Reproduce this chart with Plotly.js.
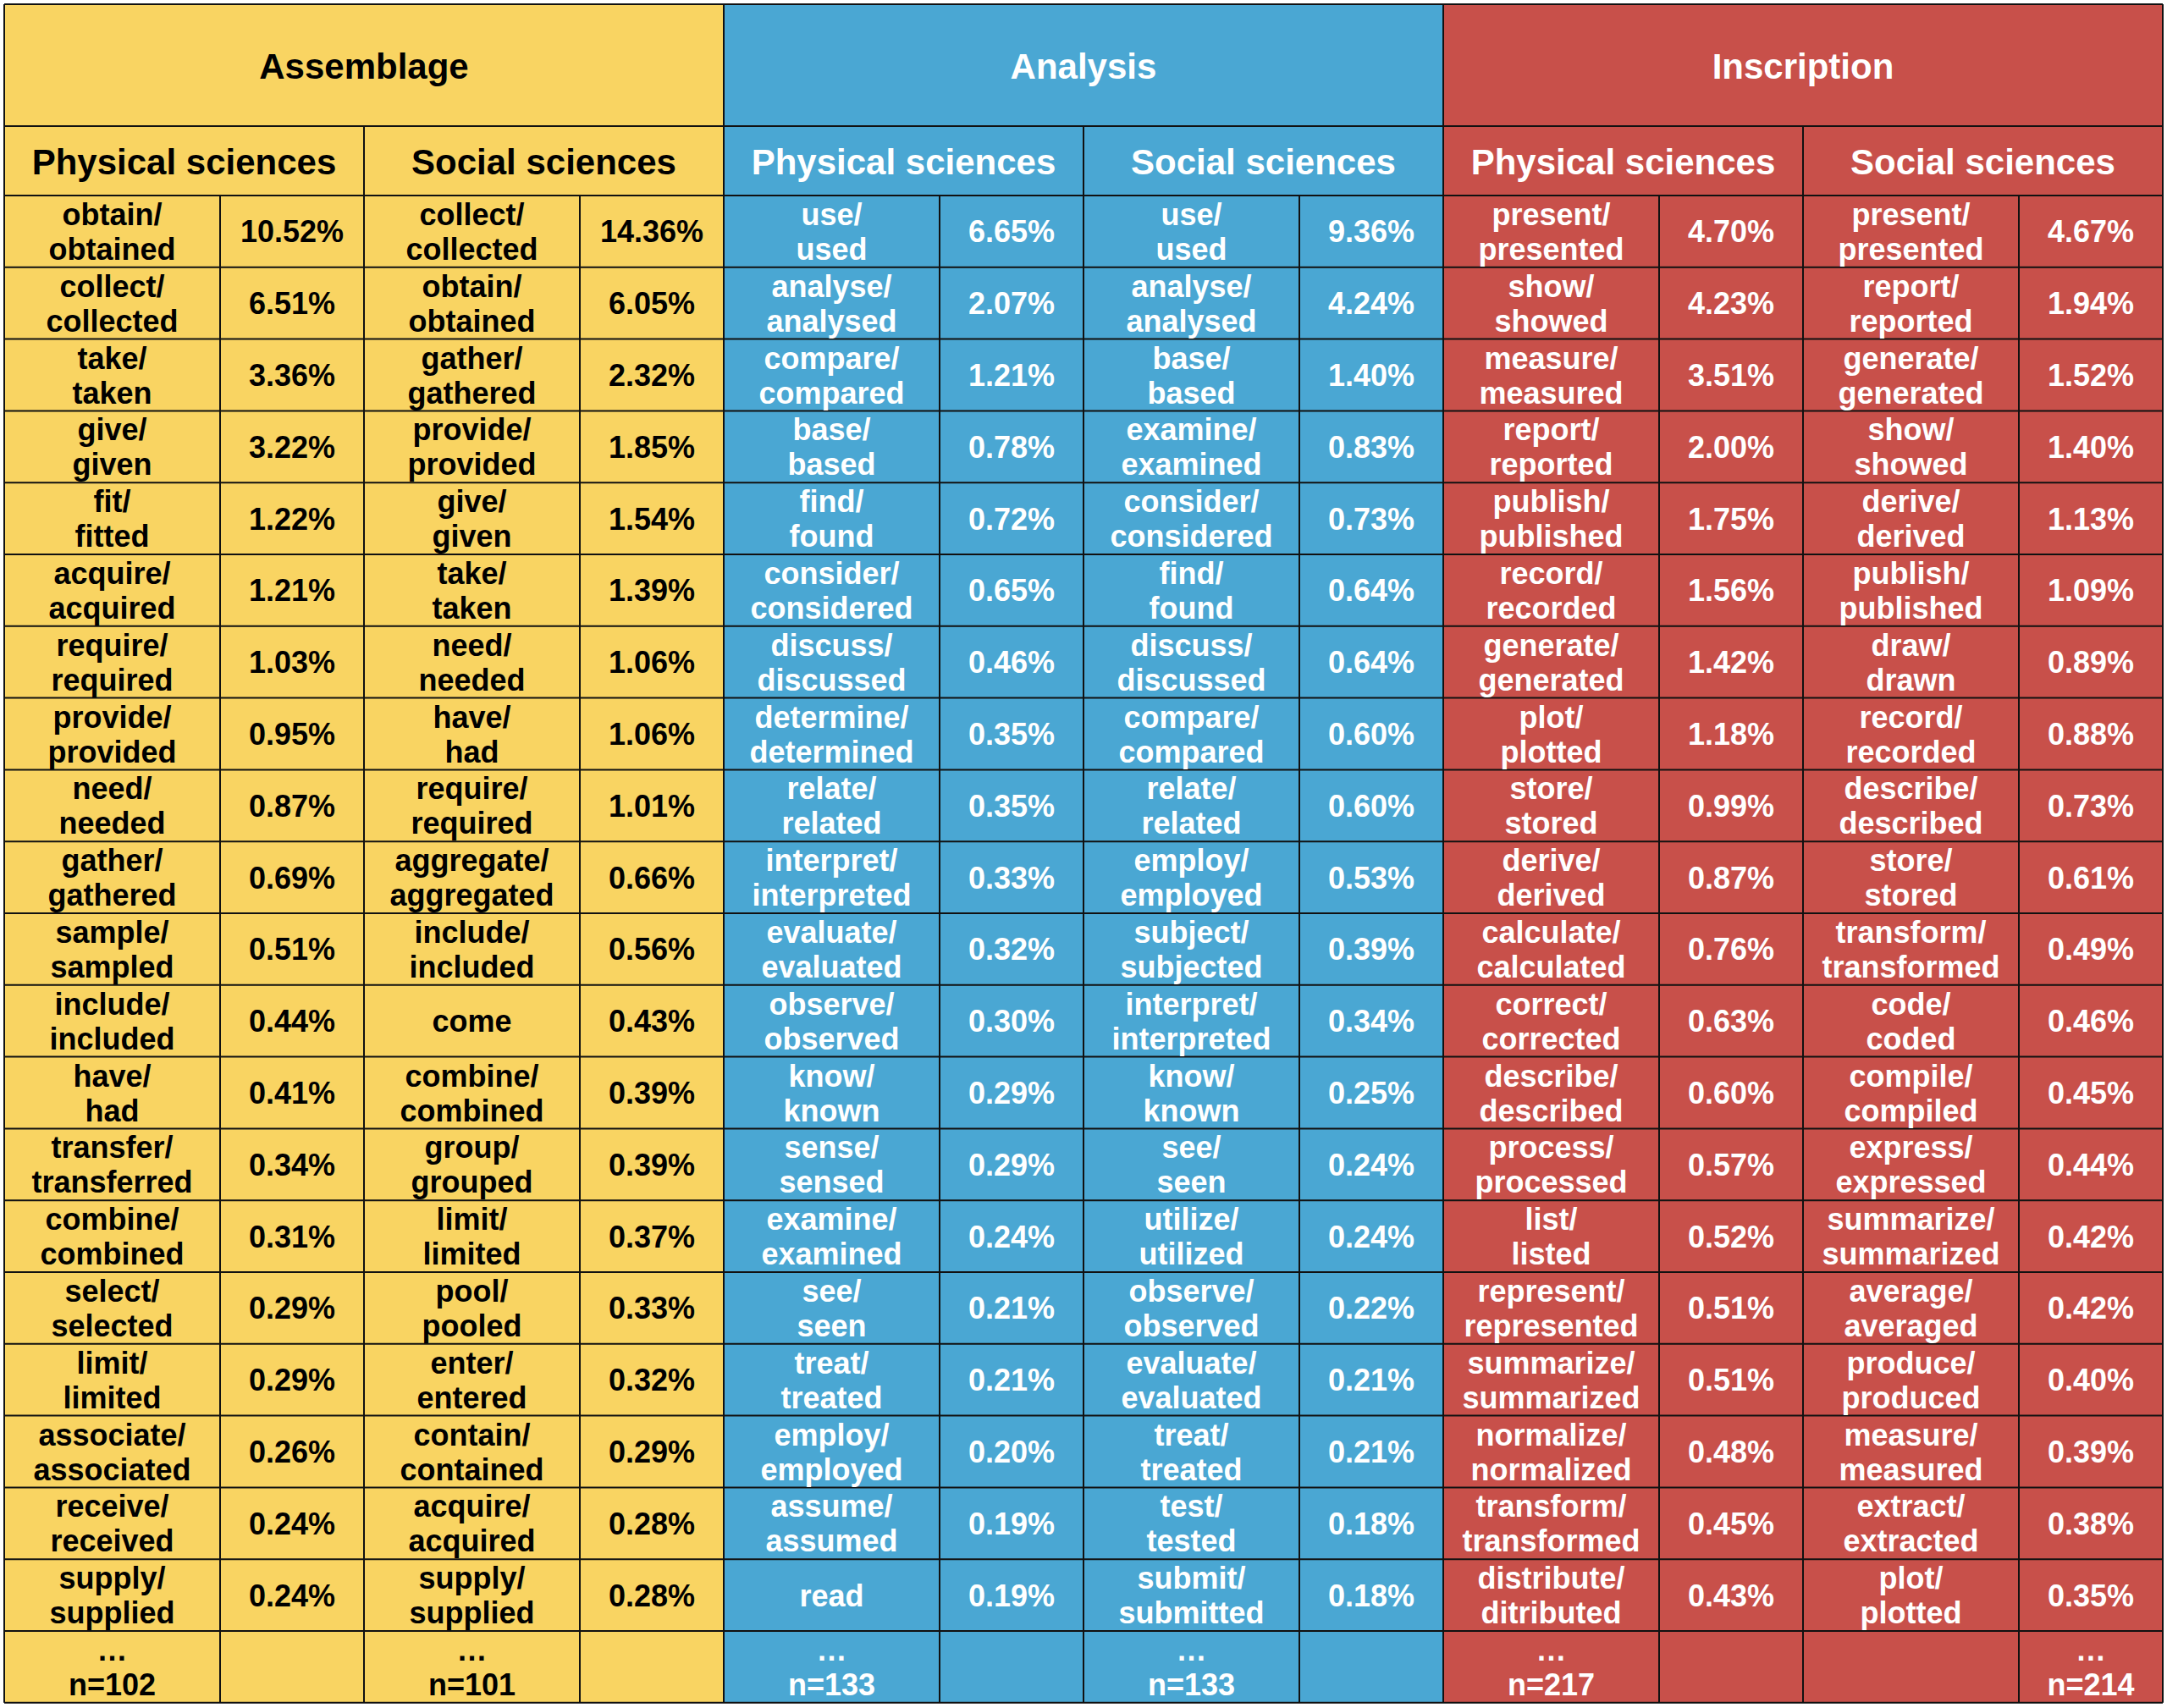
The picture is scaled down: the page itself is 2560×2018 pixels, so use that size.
<!DOCTYPE html>
<html>
<head>
<meta charset="utf-8">
<script src="https://cdn.plot.ly/plotly-3.0.1.min.js"></script>
<style>html,body{margin:0;padding:0;background:#ffffff;}</style>
</head>
<body>
<div id="chart" style="width:2560px;height:2018px;"></div>
<script>
// ---------------- DATA ----------------
const categories = ["Assemblage", "Analysis", "Inscription"];
const disciplines = ["Physical sciences", "Social sciences"];

const assemblagePhysicalVerbs = ["obtain/obtained","collect/collected","take/taken","give/given","fit/fitted","acquire/acquired","require/required","provide/provided","need/needed","gather/gathered","sample/sampled","include/included","have/had","transfer/transferred","combine/combined","select/selected","limit/limited","associate/associated","receive/received","supply/supplied"];
const assemblagePhysicalShares = [10.52,6.51,3.36,3.22,1.22,1.21,1.03,0.95,0.87,0.69,0.51,0.44,0.41,0.34,0.31,0.29,0.29,0.26,0.24,0.24];

const assemblageSocialVerbs = ["collect/collected","obtain/obtained","gather/gathered","provide/provided","give/given","take/taken","need/needed","have/had","require/required","aggregate/aggregated","include/included","come","combine/combined","group/grouped","limit/limited","pool/pooled","enter/entered","contain/contained","acquire/acquired","supply/supplied"];
const assemblageSocialShares = [14.36,6.05,2.32,1.85,1.54,1.39,1.06,1.06,1.01,0.66,0.56,0.43,0.39,0.39,0.37,0.33,0.32,0.29,0.28,0.28];

const analysisPhysicalVerbs = ["use/used","analyse/analysed","compare/compared","base/based","find/found","consider/considered","discuss/discussed","determine/determined","relate/related","interpret/interpreted","evaluate/evaluated","observe/observed","know/known","sense/sensed","examine/examined","see/seen","treat/treated","employ/employed","assume/assumed","read"];
const analysisPhysicalShares = [6.65,2.07,1.21,0.78,0.72,0.65,0.46,0.35,0.35,0.33,0.32,0.30,0.29,0.29,0.24,0.21,0.21,0.20,0.19,0.19];

const analysisSocialVerbs = ["use/used","analyse/analysed","base/based","examine/examined","consider/considered","find/found","discuss/discussed","compare/compared","relate/related","employ/employed","subject/subjected","interpret/interpreted","know/known","see/seen","utilize/utilized","observe/observed","evaluate/evaluated","treat/treated","test/tested","submit/submitted"];
const analysisSocialShares = [9.36,4.24,1.40,0.83,0.73,0.64,0.64,0.60,0.60,0.53,0.39,0.34,0.25,0.24,0.24,0.22,0.21,0.21,0.18,0.18];

const inscriptionPhysicalVerbs = ["present/presented","show/showed","measure/measured","report/reported","publish/published","record/recorded","generate/generated","plot/plotted","store/stored","derive/derived","calculate/calculated","correct/corrected","describe/described","process/processed","list/listed","represent/represented","summarize/summarized","normalize/normalized","transform/transformed","distribute/ditributed"];
const inscriptionPhysicalShares = [4.70,4.23,3.51,2.00,1.75,1.56,1.42,1.18,0.99,0.87,0.76,0.63,0.60,0.57,0.52,0.51,0.51,0.48,0.45,0.43];

const inscriptionSocialVerbs = ["present/presented","report/reported","generate/generated","show/showed","derive/derived","publish/published","draw/drawn","record/recorded","describe/described","store/stored","transform/transformed","code/coded","compile/compiled","express/expressed","summarize/summarized","average/averaged","produce/produced","measure/measured","extract/extracted","plot/plotted"];
const inscriptionSocialShares = [4.67,1.94,1.52,1.40,1.13,1.09,0.89,0.88,0.73,0.61,0.49,0.46,0.45,0.44,0.42,0.42,0.40,0.39,0.38,0.35];

const assemblageTotals = [102, 101];
const analysisTotals = [133, 133];
const inscriptionTotals = [217, 214];

// ---------------- LAYOUT / STYLE ----------------
const groups = [
  {verbs:[assemblagePhysicalVerbs, assemblageSocialVerbs], shares:[assemblagePhysicalShares, assemblageSocialShares], totals:assemblageTotals, footerInShareCol:[false,false]},
  {verbs:[analysisPhysicalVerbs, analysisSocialVerbs], shares:[analysisPhysicalShares, analysisSocialShares], totals:analysisTotals, footerInShareCol:[false,false]},
  {verbs:[inscriptionPhysicalVerbs, inscriptionSocialVerbs], shares:[inscriptionPhysicalShares, inscriptionSocialShares], totals:inscriptionTotals, footerInShareCol:[false,true]}
];
const fills = ["#F9D462", "#4AA7D3", "#C8504A"];
const inks = ["#000000", "#FFFFFF", "#FFFFFF"];
const FONT = "Liberation Sans, Arial, Helvetica, sans-serif";
const CELL_FONT = 36, HEAD_FONT = 42;
const X0 = 5, Y0 = 5;
const W_WORD = 255, W_PCT = 170, W_SUB = W_WORD + W_PCT, W_GROUP = 2 * W_SUB;
const H_TOP = 144, H_SUB = 82, H_ROW = 84.8;
const NROWS = assemblagePhysicalVerbs.length + 1;
const X_END = X0 + 3 * W_GROUP;
const Y_DATA = Y0 + H_TOP + H_SUB;
const Y_END = Y_DATA + NROWS * H_ROW;
const LINE_OFF = 20.5;   // half distance between the two text lines of a cell
const TEXT_SHIFT = 4;    // optical vertical nudge of cell text
const HEAD_SHIFT = 5;
const GRID = {color: "#111111", width: 2};

const shapes = [];
const traces = [];

groups.forEach((g, gi) => {
  const gx = X0 + gi * W_GROUP;
  shapes.push({type:"rect", xref:"x", yref:"y", layer:"below", x0:gx, x1:gx + W_GROUP, y0:Y0, y1:Y_END, fillcolor:fills[gi], line:{width:0}});
});
// horizontal lines
const hy = [Y0, Y0 + H_TOP, Y_DATA];
for (let r = 1; r <= NROWS; r++) hy.push(Y_DATA + r * H_ROW);
hy.forEach(y => shapes.push({type:"line", xref:"x", yref:"y", layer:"below", x0:X0, x1:X_END, y0:y, y1:y, line:GRID}));
// vertical lines
for (let k = 0; k <= 6; k++) {
  const x = X0 + k * W_SUB;
  shapes.push({type:"line", xref:"x", yref:"y", layer:"below", x0:x, x1:x, y0:(k % 2 === 0 ? Y0 : Y0 + H_TOP), y1:Y_END, line:GRID});
}
for (let k = 0; k < 6; k++) {
  const x = X0 + k * W_SUB + W_WORD;
  shapes.push({type:"line", xref:"x", yref:"y", layer:"below", x0:x, x1:x, y0:Y_DATA, y1:Y_END, line:GRID});
}

groups.forEach((g, gi) => {
  const hx = [], hyy = [], ht = [];
  hx.push(X0 + gi * W_GROUP + W_GROUP / 2); hyy.push(Y0 + H_TOP / 2 + HEAD_SHIFT); ht.push(categories[gi]);
  const xs = [], ys = [], ts = [];
  [0, 1].forEach(di => {
    const sx = X0 + gi * W_GROUP + di * W_SUB;
    hx.push(sx + W_SUB / 2); hyy.push(Y0 + H_TOP + H_SUB / 2 + HEAD_SHIFT); ht.push(disciplines[di]);
    const wx = sx + W_WORD / 2, px = sx + W_WORD + W_PCT / 2;
    g.verbs[di].forEach((v, ri) => {
      const cy = Y_DATA + (ri + 0.5) * H_ROW + TEXT_SHIFT;
      const slash = v.indexOf("/");
      if (slash >= 0) {
        xs.push(wx, wx); ys.push(cy - LINE_OFF, cy + LINE_OFF);
        ts.push(v.slice(0, slash + 1), v.slice(slash + 1));
      } else {
        xs.push(wx); ys.push(cy); ts.push(v);
      }
      xs.push(px); ys.push(cy); ts.push(g.shares[di][ri].toFixed(2) + "%");
    });
    const fy = Y_DATA + (NROWS - 0.5) * H_ROW + TEXT_SHIFT;
    const fx = g.footerInShareCol[di] ? px : wx;
    xs.push(fx, fx); ys.push(fy - LINE_OFF, fy + LINE_OFF); ts.push("…", "n=" + g.totals[di]);
  });
  traces.push({type:"scatter", mode:"text", x:hx, y:hyy, text:ht, textposition:"middle center", cliponaxis:false, hoverinfo:"skip",
    textfont:{family:FONT, size:HEAD_FONT, color:inks[gi], weight:"bold"}, showlegend:false});
  traces.push({type:"scatter", mode:"text", x:xs, y:ys, text:ts, textposition:"middle center", cliponaxis:false, hoverinfo:"skip",
    textfont:{family:FONT, size:CELL_FONT, color:inks[gi], weight:"bold"}, showlegend:false});
});

const layout = {
  width:2560, height:2018,
  margin:{l:0, r:0, t:0, b:0, pad:0},
  paper_bgcolor:"#ffffff", plot_bgcolor:"#ffffff",
  xaxis:{range:[0, 2560], visible:false, fixedrange:true},
  yaxis:{range:[2018, 0], visible:false, fixedrange:true},
  shapes:shapes,
  showlegend:false
};
Plotly.newPlot("chart", traces, layout, {displayModeBar:false, staticPlot:true});
</script>
</body>
</html>
